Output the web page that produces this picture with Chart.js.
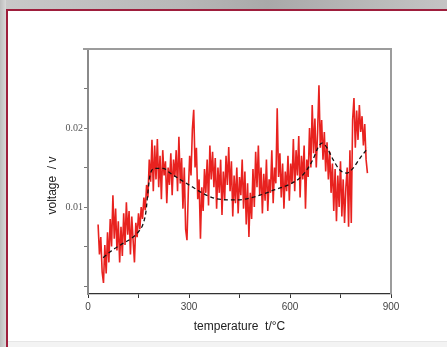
<!DOCTYPE html>
<html>
<head>
<meta charset="utf-8">
<script src="https://cdn.jsdelivr.net/npm/chart.js@4/dist/chart.umd.min.js"></script>
<style>
html,body{margin:0;padding:0;background:#f3f3f3;overflow:hidden;}
body{width:447px;height:347px;position:relative;}
#topstrip{position:absolute;left:0;top:0;width:447px;height:9px;background:linear-gradient(90deg,#c9c9c9,#b8b8b8 40%,#a9a9a9 60%,#c4c4c4);}
#leftstrip{position:absolute;left:0;top:0;width:6px;height:347px;background:linear-gradient(90deg,#bdbdbd,#d8d8d8);}
#panel{position:absolute;left:8px;top:11px;width:439px;height:330px;background:#fff;border-bottom:1px solid #e6e6e6;}
#topline{position:absolute;left:6px;top:9px;width:441px;height:2px;background:#9e1e3c;}
#leftline{position:absolute;left:6px;top:9px;width:2px;height:338px;background:#9e1e3c;}
#rightcover{position:absolute;left:437px;top:11px;width:10px;height:330px;background:#fff;z-index:5;}
canvas{position:absolute;left:0;top:0;}
</style>
</head>
<body>
<div id="topstrip"></div>
<div id="leftstrip"></div>
<div id="panel"></div>
<div id="topline"></div>
<div id="leftline"></div>
<div id="rightcover"></div>
<canvas id="c" width="447" height="347"></canvas>
<script>
// measured signal: temperature (°C) and voltage (V)
const temperature = [
30,34,38,42,46,50,54,58,62,66,70,74,78,82,86,90,94,98,102,106,110,114,118,122,126,130,134,138,142,146,150,154,158,162,166,170,174,178,182,186,
190,194,198,202,206,210,214,218,222,226,230,234,238,242,246,250,254,258,262,266,270,274,278,282,286,290,294,298,
302,306,310,314,318,322,326,330,334,338,342,346,350,354,358,362,366,370,374,378,382,386,390,394,398,
402,406,410,414,418,422,426,430,434,438,442,446,450,454,458,462,466,470,474,478,482,486,490,494,498,
502,506,510,514,518,522,526,530,534,538,542,546,550,554,558,562,566,570,574,578,582,586,590,594,598,
602,606,610,614,618,622,626,630,634,638,642,646,650,654,658,662,666,670,674,678,682,686,690,694,698,
702,706,710,714,718,722,726,730,734,738,742,746,750,754,758,762,766,770,774,778,782,786,790,794,798,
802,806,810,814,818,822,826,830
];
const voltage = [
0.0078,0.0040,0.0062,0.0018,0.0004,0.0052,0.0016,0.0068,0.0030,0.0085,0.0050,0.0115,0.0060,0.0098,0.0045,0.0082,0.0030,0.0075,0.0038,0.0092,0.0052,0.0106,0.0065,0.0095,0.0040,0.0088,0.0058,0.0030,0.0080,0.0062,0.0092,0.0072,0.0100,0.0085,0.0112,0.0096,0.0128,0.0112,0.0160,0.0132,
0.0185,0.0120,0.0178,0.0135,0.0186,0.0125,0.0165,0.0110,0.0172,0.0140,0.0158,0.0105,0.0150,0.0128,0.0168,0.0115,0.0160,0.0138,0.0172,0.0120,0.0189,0.0130,0.0162,0.0098,0.0150,0.0072,0.0058,0.0120,
0.0165,0.0140,0.0198,0.0223,0.0150,0.0175,0.0110,0.0135,0.0060,0.0125,0.0095,0.0148,0.0118,0.0160,0.0102,0.0178,0.0135,0.0170,0.0125,0.0162,0.0098,0.0150,0.0118,0.0160,0.0090,
0.0145,0.0110,0.0165,0.0128,0.0176,0.0120,0.0158,0.0088,0.0140,0.0105,0.0150,0.0092,0.0138,0.0115,0.0160,0.0098,0.0145,0.0078,0.0130,0.0062,0.0118,0.0085,0.0148,0.0100,0.0170,
0.0125,0.0178,0.0115,0.0150,0.0092,0.0142,0.0108,0.0160,0.0095,0.0135,0.0118,0.0172,0.0105,0.0150,0.0130,0.0225,0.0138,0.0168,0.0112,0.0155,0.0098,0.0145,0.0120,0.0165,0.0108,
0.0155,0.0130,0.0186,0.0120,0.0172,0.0140,0.0190,0.0112,0.0165,0.0135,0.0178,0.0098,0.0160,0.0138,0.0200,0.0150,0.0229,0.0168,0.0212,0.0150,0.0195,0.0254,0.0175,0.0210,0.0160,
0.0195,0.0145,0.0182,0.0135,0.0170,0.0118,0.0155,0.0095,0.0148,0.0082,0.0140,0.0100,0.0158,0.0088,0.0135,0.0080,0.0125,0.0150,0.0075,0.0172,0.0080,0.0210,0.0238,0.0175,0.0222,
0.0185,0.0229,0.0195,0.0215,0.0178,0.0205,0.0160,0.0143
];
// fitted trend (dashed)
const fitTemperature = [45,74,104,134,154,163,172,178,184,199,223,244,273,312,347,377,422,466,511,555,600,630,650,668,683,695,710,728,748,769,787,808,832];
const fitVoltage = [0.0036,0.0046,0.0054,0.0062,0.0071,0.0078,0.0094,0.0119,0.0140,0.0149,0.0149,0.0143,0.0135,0.0125,0.0116,0.0111,0.0109,0.0110,0.0115,0.0122,0.0129,0.0137,0.0147,0.0160,0.0175,0.0181,0.0175,0.0160,0.0147,0.0143,0.0149,0.0162,0.0175];

const xTickValues = [0,150,300,450,600,750,900];
const xTickLabels = ['0','','300','','600','','900'];
const yTickValues = [0,0.005,0.01,0.015,0.02,0.025];
const yTickLabels = ['','','0.01','','0.02',''];

const xTitle = 'temperature  t/°C';
const yTitle = 'voltage  / v';

Chart.defaults.font.family = "'Liberation Sans', Arial, sans-serif";

const framePlugin = {
  id: 'frame',
  afterDraw(chart) {
    const {ctx, chartArea: a} = chart;
    ctx.save();
    ctx.strokeStyle = '#9c9c9c';
    ctx.lineWidth = 2;
    ctx.beginPath();
    ctx.moveTo(a.left - 5, a.top);
    ctx.lineTo(a.right, a.top);
    ctx.lineTo(a.right, a.bottom);
    ctx.stroke();
    // y axis title, placed slightly below the axis centre as in the reference
    ctx.translate(a.left - 35, (a.top + a.bottom) / 2 + 14);
    ctx.rotate(-Math.PI / 2);
    ctx.fillStyle = '#222';
    ctx.font = "12px 'Liberation Sans', Arial, sans-serif";
    ctx.textAlign = 'center';
    ctx.textBaseline = 'middle';
    ctx.fillText(yTitle, 0, 0);
    ctx.restore();
  }
};

new Chart(document.getElementById('c'), {
  type: 'line',
  data: {
    datasets: [
      {
        label: 'fit',
        data: fitTemperature.map((t, i) => ({x: t, y: fitVoltage[i]})),
        borderColor: '#111',
        borderWidth: 1.3,
        borderDash: [4, 3],
        pointRadius: 0,
        cubicInterpolationMode: 'monotone',
        order: 0
      },
      {
        label: 'voltage',
        data: temperature.map((t, i) => ({x: t, y: voltage[i]})),
        borderColor: '#e8221f',
        borderWidth: 1.6,
        pointRadius: 0,
        tension: 0,
        order: 1
      }
    ]
  },
  options: {
    responsive: false,
    animation: false,
    layout: {padding: {left: 45, top: 49, right: 56, bottom: 13}},
    plugins: {legend: {display: false}, tooltip: {enabled: false}},
    scales: {
      x: {
        type: 'linear',
        min: 0, max: 900,
        afterBuildTicks: s => { s.ticks = xTickValues.map(v => ({value: v})); },
        afterFit: s => { s.height = 40; },
        ticks: {
          autoSkip: false, maxRotation: 0, padding: 3,
          color: '#444', font: {size: 10},
          callback: (v, i) => xTickLabels[i]
        },
        grid: {drawOnChartArea: false, drawTicks: true, tickLength: 4, color: '#333'},
        border: {color: '#333', width: 1.3},
        title: {display: true, text: xTitle, color: '#222', font: {size: 12}, padding: 0}
      },
      y: {
        type: 'linear',
        min: -0.001, max: 0.030,
        afterBuildTicks: s => { s.ticks = yTickValues.map(v => ({value: v})); },
        afterFit: s => { s.width = 43; },
        ticks: {
          autoSkip: false, padding: 1,
          color: '#555', font: {size: 10, family: "'Liberation Serif', serif"},
          callback: (v, i) => yTickLabels[i]
        },
        grid: {drawOnChartArea: false, drawTicks: true, tickLength: 4, color: '#777'},
        border: {color: '#8a8a8a', width: 2},
        title: {display: false, text: yTitle}
      }
    }
  },
  plugins: [framePlugin]
});
</script>
</body>
</html>
